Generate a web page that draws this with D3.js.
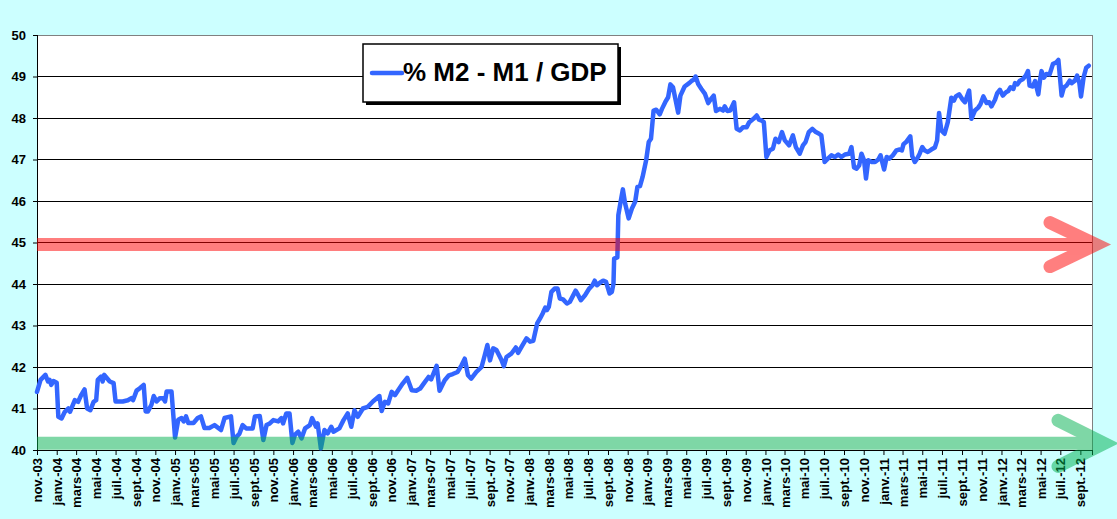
<!DOCTYPE html>
<html>
<head>
<meta charset="utf-8">
<script src="https://cdn.jsdelivr.net/npm/d3@7"></script>
<style>
  html, body { margin: 0; padding: 0; background: #ccffff; }
  svg { display: block; font-family: Arial, "Liberation Sans", sans-serif; }
</style>
</head>
<body>
<div id="chart"></div>
<script>
const obsDates = [
  '2003-11-01','2003-11-12','2003-11-27','2003-12-05','2003-12-10','2003-12-15','2003-12-22','2004-01-01','2004-01-06','2004-01-16',
  '2004-01-26','2004-02-06','2004-02-11','2004-02-26','2004-03-07','2004-03-17','2004-03-27','2004-04-04','2004-04-14','2004-04-24',
  '2004-05-02','2004-05-07','2004-05-17','2004-05-22','2004-05-27','2004-06-13','2004-06-25','2004-07-01','2004-07-23','2004-08-08',
  '2004-08-19','2004-08-24','2004-09-04','2004-09-14','2004-09-26','2004-10-02','2004-10-09','2004-10-20','2004-10-27','2004-11-05',
  '2004-11-15','2004-11-25','2004-12-01','2004-12-06','2004-12-21','2005-01-01','2005-01-11','2005-01-21','2005-01-28','2005-02-04',
  '2005-02-11','2005-02-27','2005-03-12','2005-03-22','2005-04-02','2005-04-17','2005-05-03','2005-05-23','2005-06-03','2005-06-23',
  '2005-07-01','2005-07-11','2005-07-19','2005-07-29','2005-08-09','2005-08-29','2005-09-05','2005-09-20','2005-10-01','2005-10-11',
  '2005-10-21','2005-11-01','2005-11-16','2005-11-26','2005-12-01','2005-12-11','2005-12-21','2005-12-30','2006-01-07','2006-01-17',
  '2006-01-27','2006-02-07','2006-02-22','2006-03-01','2006-03-13','2006-03-18','2006-03-28','2006-04-08','2006-04-18','2006-04-29',
  '2006-05-06','2006-05-24','2006-06-06','2006-06-19','2006-06-30','2006-07-10','2006-07-20','2006-08-05','2006-08-20','2006-09-05',
  '2006-09-25','2006-10-02','2006-10-12','2006-10-22','2006-11-02','2006-11-12','2006-11-22','2006-12-06','2006-12-20','2007-01-03',
  '2007-01-17','2007-01-29','2007-02-09','2007-02-24','2007-03-04','2007-03-21','2007-03-30','2007-04-15','2007-04-28','2007-05-10',
  '2007-05-25','2007-06-06','2007-06-16','2007-06-26','2007-07-06','2007-07-22','2007-08-07','2007-08-17','2007-08-25','2007-09-02',
  '2007-09-12','2007-09-22','2007-10-08','2007-10-15','2007-10-23','2007-11-08','2007-11-21','2007-11-28','2007-12-09','2007-12-24',
  '2008-01-04','2008-01-14','2008-01-26','2008-02-04','2008-02-12','2008-02-20','2008-02-25','2008-03-02','2008-03-10','2008-03-20',
  '2008-03-29','2008-04-05','2008-04-15','2008-04-27','2008-05-06','2008-05-24','2008-06-01','2008-06-09','2008-06-22','2008-07-05',
  '2008-07-15','2008-07-22','2008-07-29','2008-08-07','2008-08-17','2008-08-26','2008-09-06','2008-09-13','2008-09-18','2008-09-20',
  '2008-09-30','2008-10-03','2008-10-11','2008-10-17','2008-10-24','2008-11-04','2008-11-14','2008-11-24','2008-12-01','2008-12-09',
  '2008-12-17','2008-12-28','2009-01-05','2009-01-12','2009-01-20','2009-01-28','2009-02-08','2009-02-15','2009-02-25','2009-03-06',
  '2009-03-13','2009-03-21','2009-03-29','2009-04-06','2009-04-13','2009-04-26','2009-05-10','2009-05-17','2009-05-24','2009-05-30',
  '2009-06-07','2009-06-17','2009-06-28','2009-07-08','2009-07-15','2009-07-25','2009-08-01','2009-08-13','2009-08-23','2009-08-28',
  '2009-09-05','2009-09-14','2009-09-26','2009-10-04','2009-10-14','2009-10-24','2009-11-04','2009-11-12','2009-11-25','2009-12-05',
  '2009-12-12','2009-12-20','2009-12-27','2010-01-04','2010-01-14','2010-01-24','2010-02-01','2010-02-11','2010-02-21','2010-03-02',
  '2010-03-15','2010-03-27','2010-04-05','2010-04-17','2010-04-27','2010-05-05','2010-05-15','2010-05-26','2010-06-06','2010-06-16',
  '2010-06-23','2010-07-03','2010-07-13','2010-07-24','2010-08-04','2010-08-14','2010-08-24','2010-09-04','2010-09-17','2010-09-24',
  '2010-10-02','2010-10-10','2010-10-18','2010-10-25','2010-11-02','2010-11-08','2010-11-15','2010-11-26','2010-12-06','2010-12-16',
  '2010-12-23','2011-01-03','2011-01-11','2011-01-19','2011-01-30','2011-02-10','2011-02-20','2011-02-27','2011-03-04','2011-03-12',
  '2011-03-25','2011-03-31','2011-04-08','2011-04-15','2011-04-23','2011-05-01','2011-05-08','2011-05-18','2011-05-29','2011-06-09',
  '2011-06-16','2011-06-22','2011-06-29','2011-07-09','2011-07-19','2011-07-30','2011-08-07','2011-08-13','2011-08-23','2011-09-03',
  '2011-09-10','2011-09-23','2011-09-30','2011-10-11','2011-10-21','2011-10-28','2011-11-06','2011-11-16','2011-11-24','2011-12-01',
  '2011-12-12','2011-12-19','2011-12-27','2012-01-05','2012-01-15','2012-01-22','2012-01-29','2012-02-07','2012-02-12','2012-02-19',
  '2012-02-27','2012-03-08','2012-03-16','2012-03-23','2012-03-28','2012-04-07','2012-04-14','2012-04-24','2012-04-29','2012-05-04',
  '2012-05-11','2012-05-19','2012-05-29','2012-06-08','2012-06-18','2012-06-25','2012-07-05','2012-07-12','2012-07-20','2012-07-30',
  '2012-08-05','2012-08-15','2012-08-22','2012-08-29','2012-09-03','2012-09-11','2012-09-19','2012-09-27'
];

const ratioValues = [
  41.40,41.69,41.81,41.65,41.69,41.57,41.66,41.62,40.80,40.76,
  40.92,41.00,40.92,41.20,41.16,41.33,41.46,41.00,40.96,41.16,
  41.20,41.69,41.77,41.65,41.81,41.65,41.61,41.17,41.17,41.20,
  41.25,41.20,41.43,41.49,41.57,40.93,40.93,41.09,41.30,41.17,
  41.25,41.25,41.17,41.41,41.41,40.30,40.73,40.77,40.69,40.81,
  40.65,40.65,40.77,40.81,40.53,40.53,40.60,40.48,40.77,40.81,
  40.17,40.33,40.39,40.60,40.52,40.52,40.81,40.82,40.24,40.60,
  40.64,40.72,40.69,40.77,40.64,40.88,40.88,40.17,40.37,40.44,
  40.28,40.52,40.60,40.77,40.56,40.64,40.04,40.48,40.40,40.56,
  40.44,40.52,40.72,40.88,40.56,40.96,40.80,41.00,41.04,41.17,
  41.30,40.94,41.16,41.12,41.40,41.32,41.44,41.60,41.74,41.44,
  41.43,41.48,41.60,41.76,41.70,42.03,41.43,41.68,41.80,41.83,
  41.88,42.04,42.20,41.80,41.72,41.88,42.00,42.29,42.53,42.16,
  42.45,42.41,42.16,42.02,42.24,42.33,42.47,42.34,42.49,42.69,
  42.61,42.63,43.05,43.17,43.29,43.43,43.37,43.45,43.81,43.89,
  43.89,43.65,43.63,43.53,43.57,43.84,43.73,43.61,43.73,43.89,
  43.97,44.08,43.97,44.03,44.08,44.05,43.77,43.81,44.01,44.61,
  44.64,45.66,46.02,46.28,45.94,45.58,45.82,45.98,46.34,46.36,
  46.58,46.98,47.42,47.50,48.18,48.20,48.09,48.22,48.38,48.50,
  48.81,48.74,48.44,48.13,48.54,48.76,48.84,48.89,48.92,49.00,
  48.82,48.70,48.58,48.36,48.44,48.54,48.17,48.22,48.18,48.28,
  48.17,48.18,48.38,47.74,47.70,47.78,47.78,47.90,47.98,48.06,
  47.96,47.94,47.90,47.06,47.22,47.26,47.50,47.42,47.66,47.46,
  47.34,47.58,47.30,47.14,47.34,47.42,47.66,47.74,47.66,47.62,
  47.58,46.94,47.02,47.10,47.06,47.12,47.06,47.12,47.14,47.30,
  46.81,46.78,46.86,47.14,46.98,46.54,46.98,46.94,46.94,47.00,
  47.10,46.76,47.06,47.02,47.10,47.22,47.24,47.22,47.37,47.42,
  47.56,47.08,46.94,47.02,47.14,47.30,47.22,47.18,47.24,47.29,
  47.46,48.12,47.70,47.62,47.90,48.49,48.42,48.52,48.57,48.44,
  48.38,48.66,47.98,48.18,48.25,48.33,48.52,48.36,48.38,48.28,
  48.44,48.60,48.68,48.54,48.62,48.65,48.74,48.70,48.84,48.81,
  48.90,48.94,49.02,49.13,48.78,48.76,48.89,48.57,48.90,49.13,
  48.97,49.06,49.05,49.30,49.34,49.40,48.54,48.74,48.78,48.90,
  48.84,48.90,49.02,48.84,48.52,48.98,49.21,49.26
];

const monthAbbr = ['janv.','févr.','mars','avr.','mai','juin','juil.','août','sept.','oct.','nov.','déc.'];
const yTickValues = [40, 41, 42, 43, 44, 45, 46, 47, 48, 49, 50];
const seriesName = '% M2 - M1 / GDP';
const axisStart = '2003-11-01', axisEnd = '2012-10-07';
const upperLevel = 44.95;   // red arrow
const lowerLevel = 40.16;   // green arrow

const width = 1117, height = 519;
const margin = { top: 35, right: 25, bottom: 69, left: 37 };
const parse = d3.utcParse('%Y-%m-%d');

const data = obsDates.map((d, i) => ({ date: parse(d), value: ratioValues[i] }));

const svg = d3.select('#chart').append('svg')
  .attr('width', width)
  .attr('height', height);

svg.append('rect')
  .attr('width', width).attr('height', height)
  .attr('fill', '#ccffff');

const x = d3.scaleUtc()
  .domain([parse(axisStart), parse(axisEnd)])
  .range([margin.left, width - margin.right]);

const y = d3.scaleLinear()
  .domain([40, 50])
  .range([height - margin.bottom, margin.top]);

const x0 = x.range()[0], x1 = x.range()[1];
const yTop = y.range()[1], yBot = y.range()[0];

// plot area
svg.append('rect')
  .attr('x', x0).attr('y', yTop)
  .attr('width', x1 - x0).attr('height', yBot - yTop)
  .attr('fill', '#ffffff');

// gridlines
svg.append('g')
  .selectAll('line')
  .data(yTickValues.filter(v => v > 40 && v < 50))
  .join('line')
    .attr('x1', x0).attr('x2', x1)
    .attr('y1', d => y(d)).attr('y2', d => y(d))
    .attr('stroke', '#000')
    .attr('stroke-width', 1)
    .attr('shape-rendering', 'crispEdges');

// top / right border
svg.append('path')
  .attr('d', `M${x0},${yTop}H${x1}V${yBot}`)
  .attr('fill', 'none')
  .attr('stroke', '#808080')
  .attr('stroke-width', 1)
  .attr('shape-rendering', 'crispEdges');

// y axis
const yAxis = svg.append('g')
  .attr('transform', `translate(${x0},0)`)
  .call(d3.axisLeft(y).tickValues(yTickValues).tickSize(4).tickPadding(7).tickFormat(d3.format('d')));
yAxis.select('.domain').attr('stroke', '#000').attr('shape-rendering', 'crispEdges');
yAxis.selectAll('.tick line').attr('stroke', '#000');
yAxis.selectAll('text')
  .attr('font-family', 'Arial, "Liberation Sans", sans-serif')
  .attr('font-size', 13)
  .attr('font-weight', 'bold')
  .attr('fill', '#000');

// x axis
const xTicks = d3.utcMonth.every(2).range(parse(axisStart), parse(axisEnd));
const xAxis = svg.append('g')
  .attr('transform', `translate(0,${yBot})`)
  .call(d3.axisBottom(x)
    .tickValues(xTicks)
    .tickSize(5)
    .tickFormat(d => monthAbbr[d.getUTCMonth()] + '-' + String(d.getUTCFullYear()).slice(2)));
xAxis.select('.domain').attr('stroke', '#000').attr('shape-rendering', 'crispEdges');
xAxis.selectAll('.tick line').attr('stroke', '#000');
xAxis.selectAll('text')
  .attr('font-family', 'Arial, "Liberation Sans", sans-serif')
  .attr('font-size', 13)
  .attr('font-weight', 'bold')
  .attr('fill', '#000')
  .attr('text-anchor', 'end')
  .attr('transform', 'translate(0,8) rotate(-90)')
  .attr('x', 0)
  .attr('y', 0)
  .attr('dy', '0.35em');

// series line
const line = d3.line()
  .x(d => x(d.date))
  .y(d => y(d.value));

svg.append('path')
  .datum(data)
  .attr('d', line)
  .attr('fill', 'none')
  .attr('stroke', '#3366ff')
  .attr('stroke-width', 4.5)
  .attr('stroke-linejoin', 'round')
  .attr('stroke-linecap', 'round');

// horizontal arrows (semi transparent, drawn on top)
function arrow(level, color, tipOff, armBack, armSpread) {
  const yl = y(level);
  const tip = x1 + tipOff;
  const g = svg.append('g').attr('opacity', 0.5);
  g.append('line')
    .attr('x1', x0).attr('x2', tip - 8)
    .attr('y1', yl).attr('y2', yl)
    .attr('stroke', color).attr('stroke-width', 13);
  g.append('path')
    .attr('d', `M${x1 - armBack},${yl - armSpread}L${tip - 6},${yl}L${x1 - armBack},${yl + armSpread}`)
    .attr('fill', 'none')
    .attr('stroke', color)
    .attr('stroke-width', 13)
    .attr('stroke-linecap', 'round')
    .attr('stroke-linejoin', 'miter')
    .attr('stroke-miterlimit', 10);
}
arrow(upperLevel, '#ff0000', 10, 42, 22);
arrow(lowerLevel, '#00b050', 18, 34, 23);

// legend
const lg = svg.append('g').attr('transform', 'translate(363,44)');
lg.append('rect')
  .attr('x', 3).attr('y', 3)
  .attr('width', 255).attr('height', 58)
  .attr('fill', '#000');
lg.append('rect')
  .attr('width', 255).attr('height', 58)
  .attr('fill', '#fff')
  .attr('stroke', '#000')
  .attr('stroke-width', 1.5);
lg.append('line')
  .attr('x1', 9).attr('x2', 39)
  .attr('y1', 29).attr('y2', 29)
  .attr('stroke', '#3366ff')
  .attr('stroke-width', 4.5)
  .attr('stroke-linecap', 'round');
lg.append('text')
  .attr('x', 40).attr('y', 37)
  .attr('font-size', 26)
  .attr('font-weight', 'bold')
  .attr('fill', '#000')
  .text(seriesName);
</script>
</body>
</html>
